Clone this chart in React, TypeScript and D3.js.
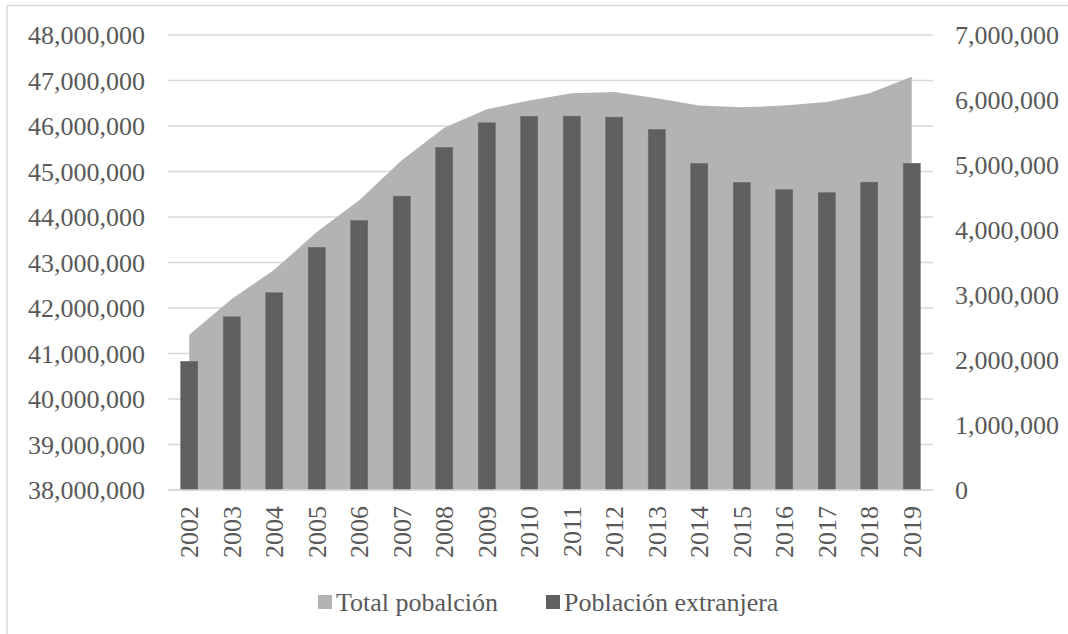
import * as d3 from "d3";

const WIDTH = 1068;
const HEIGHT = 634;
const PLOT = { left: 168, right: 933, top: 35, bottom: 490 };

const FONT = "Liberation Serif, Times New Roman, DejaVu Serif, serif";
const TEXT = "#595959";
const GRID = "#d9d9d9";
const AREA_COLOR = "#b3b3b3";
const BAR_COLOR = "#5f5f5f";

// years on the category axis
const years = [
  "2002", "2003", "2004", "2005", "2006", "2007", "2008", "2009", "2010",
  "2011", "2012", "2013", "2014", "2015", "2016", "2017", "2018", "2019",
];

// Total pobalción (left axis)
const totalPoblacion = [
  41410000, 42200000, 42840000, 43670000, 44370000, 45250000, 45960000,
  46370000, 46560000, 46720000, 46750000, 46610000, 46450000, 46410000,
  46450000, 46530000, 46720000, 47080000,
];

// Población extranjera (right axis)
const poblacionExtranjera = [
  1978000, 2664000, 3034000, 3731000, 4144000, 4520000, 5269000, 5649000,
  5748000, 5751000, 5736000, 5546000, 5023000, 4730000, 4619000, 4573000,
  4735000, 5025000,
];

const leftTicks = [38e6, 39e6, 40e6, 41e6, 42e6, 43e6, 44e6, 45e6, 46e6, 47e6, 48e6];
const rightTicks = [0, 1e6, 2e6, 3e6, 4e6, 5e6, 6e6, 7e6];

const legendItems = [
  { label: "Total pobalción", color: AREA_COLOR, x: 318 },
  { label: "Población extranjera", color: BAR_COLOR, x: 546 },
];

const fmt = d3.format(",");

export default function App() {
  const x = d3
    .scaleBand<string>()
    .domain(years)
    .range([PLOT.left, PLOT.right])
    .padding(0);
  const center = (y: string) => (x(y) ?? 0) + x.bandwidth() / 2;

  const yLeft = d3.scaleLinear().domain([38e6, 48e6]).range([PLOT.bottom, PLOT.top]);
  const yRight = d3.scaleLinear().domain([0, 7e6]).range([PLOT.bottom, PLOT.top]);

  const area = d3
    .area<number>()
    .x((_, i) => center(years[i]))
    .y0(yLeft(38e6))
    .y1((d) => yLeft(d));

  const barW = x.bandwidth() * 0.4;

  return (
    <svg
      width={WIDTH}
      height={HEIGHT}
      style={{ position: "absolute", left: 0, top: 0, background: "#fff", fontFamily: FONT }}
    >
      {/* chart frame, cropped at right / bottom */}
      <rect x={7} y={5.5} width={1100} height={700} fill="#fff" stroke={GRID} strokeWidth={1.5} />

      {/* gridlines */}
      {leftTicks.map((t) => (
        <line key={t} x1={PLOT.left} x2={PLOT.right} y1={yLeft(t)} y2={yLeft(t)} stroke={GRID} strokeWidth={1.3} />
      ))}

      {/* Total population area */}
      <path d={area(totalPoblacion) ?? ""} fill={AREA_COLOR} />

      {/* foreign population bars */}
      {poblacionExtranjera.map((v, i) => (
        <rect
          key={years[i]}
          x={center(years[i]) - barW / 2}
          y={yRight(v)}
          width={barW}
          height={yRight(0) - yRight(v)}
          fill={BAR_COLOR}
          stroke="#6a6a6a"
          strokeWidth={0.6}
        />
      ))}

      {/* baseline */}
      <line x1={PLOT.left} x2={PLOT.right} y1={PLOT.bottom} y2={PLOT.bottom} stroke={GRID} strokeWidth={1.3} />

      {/* left axis labels */}
      {leftTicks.map((t) => (
        <text key={t} x={145} y={yLeft(t)} dy="0.35em" textAnchor="end" fontSize={26} fill={TEXT}>
          {fmt(t)}
        </text>
      ))}

      {/* right axis labels */}
      {rightTicks.map((t) => (
        <text key={t} x={955} y={yRight(t)} dy="0.35em" textAnchor="start" fontSize={26} fill={TEXT}>
          {fmt(t)}
        </text>
      ))}

      {/* year labels */}
      {years.map((y) => (
        <text
          key={y}
          transform={`translate(${center(y) + 9},${506}) rotate(-90)`}
          textAnchor="end"
          fontSize={26}
          fill={TEXT}
        >
          {y}
        </text>
      ))}

      {/* legend */}
      {legendItems.map((it) => (
        <g key={it.label} transform={`translate(${it.x},602)`}>
          <rect x={0} y={-7} width={14} height={14} fill={it.color} />
          <text x={18} y={0} dy="0.35em" fontSize={26} fill={TEXT}>
            {it.label}
          </text>
        </g>
      ))}
    </svg>
  );
}
